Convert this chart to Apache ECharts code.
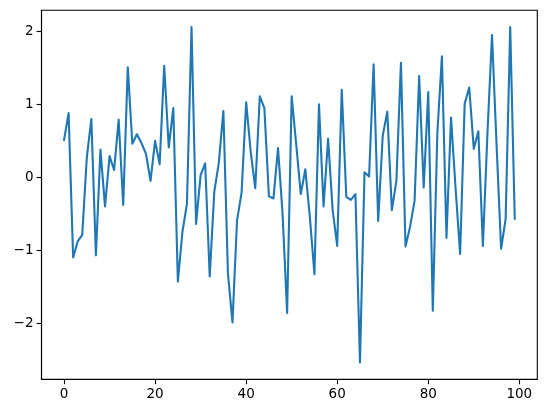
<!DOCTYPE html>
<html>
<head>
<meta charset="utf-8">
<script src="https://cdn.jsdelivr.net/npm/echarts@6/dist/echarts.min.js"></script>
<style>
  html, body { margin: 0; padding: 0; background: #fff; }
  #chart { width: 546px; height: 413px; }
</style>
</head>
<body>
<div id="chart"></div>
<script>
// values, one per step 0..99
const values = [
  0.51, 0.88, -1.10, -0.88, -0.79, 0.27, 0.80, -1.07, 0.38, -0.40,
  0.29, 0.10, 0.79, -0.38, 1.51, 0.46, 0.59, 0.47, 0.32, -0.05,
  0.50, 0.18, 1.53, 0.41, 0.95, -1.43, -0.75, -0.36, 2.06, -0.64,
  0.03, 0.19, -1.36, -0.20, 0.20, 0.91, -1.32, -1.99, -0.59, -0.21,
  1.03, 0.35, -0.15, 1.11, 0.95, -0.26, -0.29, 0.40, -0.50, -1.86,
  1.11, 0.45, -0.23, 0.11, -0.55, -1.33, 1.00, -0.40, 0.53, -0.45,
  -0.94, 1.20, -0.27, -0.31, -0.23, -2.54, 0.07, 0.01, 1.55, -0.60,
  0.57, 0.90, -0.45, -0.05, 1.57, -0.95, -0.68, -0.32, 1.39, -0.14,
  1.17, -1.83, 0.61, 1.66, -0.83, 0.82, -0.15, -1.05, 1.01, 1.23,
  0.39, 0.63, -0.94, 0.60, 1.95, 0.45, -0.98, -0.57, 2.06, -0.57
];
const xTicks = [0, 20, 40, 60, 80, 100];
const yTicks = [-2, -1, 0, 1, 2];

// matplotlib-style 5% margins around the data
const xMin = -4.95, xMax = 103.95;
const yMin = -2.77, yMax = 2.29;

const chart = echarts.init(document.getElementById("chart"), null, { renderer: "canvas" });

const tickStyle = { show: true, inside: false, length: 4.9, lineStyle: { color: "#000", width: 1.1 } };
const labelStyle = {
  color: "#000", fontFamily: "DejaVu Sans", fontSize: 13.5, margin: 8,
  // matplotlib prints a real minus sign
  formatter: (v) => String(v).replace("-", "\u2212")
};

chart.setOption({
  animation: false,
  grid: {
    left: 41.5, right: 8.7, top: 10.3, bottom: 33.7,
    show: true, borderColor: "#000", borderWidth: 1.1, backgroundColor: "#fff"
  },
  xAxis: {
    type: "value",
    min: xMin, max: xMax,
    splitLine: { show: false },
    axisLine: { show: true, onZero: false, lineStyle: { color: "#000", width: 1.1 } },
    axisTick: Object.assign({ customValues: xTicks }, tickStyle),
    axisLabel: Object.assign({ customValues: xTicks }, labelStyle)
  },
  yAxis: {
    type: "value",
    min: yMin, max: yMax,
    splitLine: { show: false },
    axisLine: { show: true, onZero: false, lineStyle: { color: "#000", width: 1.1 } },
    axisTick: Object.assign({ customValues: yTicks }, tickStyle),
    axisLabel: Object.assign({ customValues: yTicks }, labelStyle)
  },
  series: [{
    type: "line",
    data: values.map((v, i) => [i, v]),
    showSymbol: false,
    lineStyle: { color: "#1f77b4", width: 2.1, join: "round", cap: "round" },
    itemStyle: { color: "#1f77b4" }
  }]
});
</script>
</body>
</html>
